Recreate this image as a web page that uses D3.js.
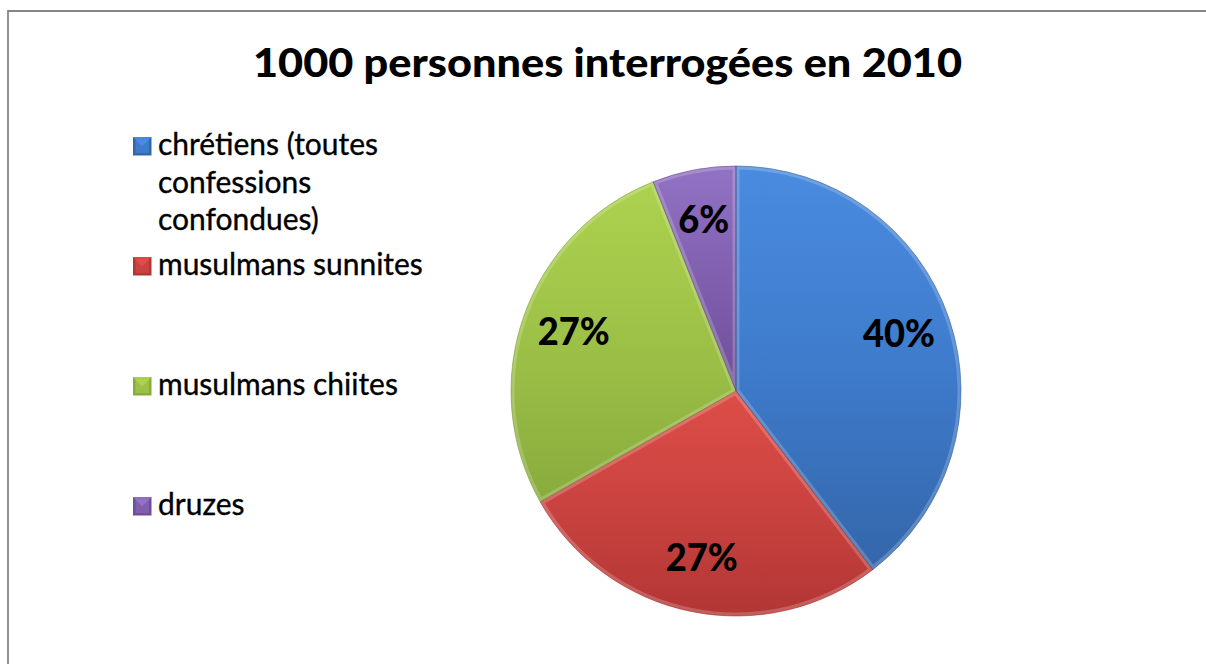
<!DOCTYPE html>
<html>
<head>
<meta charset="utf-8">
<script src="https://cdn.jsdelivr.net/npm/d3@7"></script>
<style>
  html, body { margin: 0; padding: 0; background: #fff; overflow: hidden; }
  svg { display: block; }
</style>
</head>
<body>
<svg id="chart" width="1206" height="664"></svg>
<script>
// ---- data ----
const title = "1000 personnes interrogées en 2010";
const categories = ["chrétiens (toutes confessions confondues)", "musulmans sunnites", "musulmans chiites", "druzes"];
const values = [396, 272, 272, 60];

// ---- styles ----
const palette = [
  { top: "#4a8be0", mid: "#3e7bcb", bot: "#3466aa", edge: "#2d5a94" },
  { top: "#de4d47", mid: "#ca4340", bot: "#b23634", edge: "#9c2f2d" },
  { top: "#add24f", mid: "#9dc147", bot: "#88ab3d", edge: "#789936" },
  { top: "#9272c4", mid: "#805faf", bot: "#6f4f9a", edge: "#5f4486" }
];
const FONT = "Lato, 'Open Sans', sans-serif";
const CAP = 0.717; // Lato cap-height ratio

const svg = d3.select("#chart");
const defs = svg.append("defs");

// border (top and left edges visible in the reference)
svg.append("path")
  .attr("d", "M8,700V11H1400")
  .attr("fill", "none")
  .attr("stroke", "#868686").attr("stroke-width", 1.8);

function shape(sel, capPx, targetW) {
  sel.attr("font-size", capPx / CAP);
  const w = sel.node().getComputedTextLength();
  return targetW / w;
}

// title
const t = svg.append("text")
  .attr("text-anchor", "middle")
  .attr("font-family", FONT).attr("font-weight", 900)
  .attr("fill", "#000")
  .text(title);
const tsx = shape(t, 28.6, 709);
t.attr("transform", `translate(607.5,77) scale(${tsx},1)`);

// gradients
palette.forEach((p, i) => {
  const g = defs.append("linearGradient").attr("id", "g" + i)
    .attr("x1", 0).attr("y1", 0).attr("x2", 0).attr("y2", 1);
  g.append("stop").attr("offset", "0%").attr("stop-color", p.top);
  g.append("stop").attr("offset", "50%").attr("stop-color", p.mid);
  g.append("stop").attr("offset", "100%").attr("stop-color", p.bot);
});

// ---- pie ----
const cx = 736, cy = 391, R = 225;
const total = d3.sum(values);
const pie = d3.pie().sort(null).value(d => d)(values);
const arc = d3.arc().innerRadius(0).outerRadius(R);
const labelArc = d3.arc().innerRadius(172).outerRadius(172);

const gPie = svg.append("g").attr("transform", `translate(${cx},${cy})`);

pie.forEach((d, i) => {
  defs.append("clipPath").attr("id", "c" + i)
    .append("path").attr("d", arc(d));
});

gPie.selectAll("path.slice").data(pie).join("path")
  .attr("class", "slice")
  .attr("d", arc)
  .attr("fill", (d, i) => `url(#g${i})`);

// bevel highlight
gPie.selectAll("path.bevel").data(pie).join("path")
  .attr("class", "bevel")
  .attr("d", arc)
  .attr("fill", "none")
  .attr("clip-path", (d, i) => `url(#c${i})`)
  .attr("stroke", "#ffffff").attr("stroke-opacity", 0.2)
  .attr("stroke-width", 7);

gPie.selectAll("path.edge").data(pie).join("path")
  .attr("class", "edge")
  .attr("d", arc)
  .attr("fill", "none")
  .attr("stroke", (d, i) => palette[i].edge)
  .attr("stroke-opacity", 0.7)
  .attr("stroke-width", 0.8);

const labels = gPie.selectAll("text.lbl").data(pie).join("text")
  .attr("class", "lbl")
  .attr("text-anchor", "middle")
  .attr("font-family", FONT).attr("font-weight", 900)
  .attr("fill", "#000")
  .text(d => Math.round(d.value / total * 100) + "%");
const lsx = shape(labels.filter((d, i) => i === 0), 26.8, 72);
labels.attr("font-size", 26.8 / CAP)
  .attr("transform", d => {
    const [x, y] = labelArc.centroid(d);
    return `translate(${x},${y + 26.8 / 2 - 2}) scale(${lsx},1)`;
  });

// ---- legend ----
const legY = d3.scaleLinear().domain([0, categories.length - 1]).range([155, 515]);
const legX = 158, lineH = 37.5, wrapW = 272;

const probe = svg.append("text").attr("font-family", FONT).attr("font-size", 28).text("musulmans sunnites");
const legFS = 28 * 265 / probe.node().getComputedTextLength();
probe.attr("font-size", legFS);

function wrap(str) {
  const words = str.split(" ");
  const lines = [];
  let cur = "";
  words.forEach(w => {
    const test = cur ? cur + " " + w : w;
    probe.text(test);
    if (probe.node().getComputedTextLength() > wrapW && cur) {
      lines.push(cur); cur = w;
    } else cur = test;
  });
  lines.push(cur);
  return lines;
}

const legend = svg.append("g");
categories.forEach((c, i) => {
  const y = legY(i);
  const p = palette[i];
  const mx = 133, my = y - 18, ms = 18.5;
  legend.append("rect").attr("x", mx).attr("y", my).attr("width", ms).attr("height", ms)
    .attr("fill", p.bot);
  legend.append("rect").attr("x", mx + 2.5).attr("y", my + 2.5).attr("width", ms - 5).attr("height", ms - 5)
    .attr("fill", p.mid);
  legend.append("path")
    .attr("d", `M${mx},${my}L${mx + ms},${my}L${mx + ms - 2.5},${my + 2.5}L${mx + ms / 2},${my + ms / 2}L${mx + 2.5},${my + 2.5}Z`)
    .attr("fill", p.top).attr("opacity", 0.9);
  legend.append("path")
    .attr("d", `M${mx + 2.5},${my + 2.5}L${mx + ms - 2.5},${my + 2.5}L${mx + ms / 2},${my + ms / 2}Z`)
    .attr("fill", p.top);
  const lines = wrap(c);
  const tx = legend.append("text")
    .attr("x", legX).attr("y", y)
    .attr("font-family", FONT).attr("font-size", legFS).attr("fill", "#000")
    .attr("stroke", "#000").attr("stroke-width", 0.35);
  lines.forEach((l, k) => {
    tx.append("tspan").attr("x", legX).attr("y", y + k * lineH).text(l);
  });
});
probe.remove();
</script>
</body>
</html>
